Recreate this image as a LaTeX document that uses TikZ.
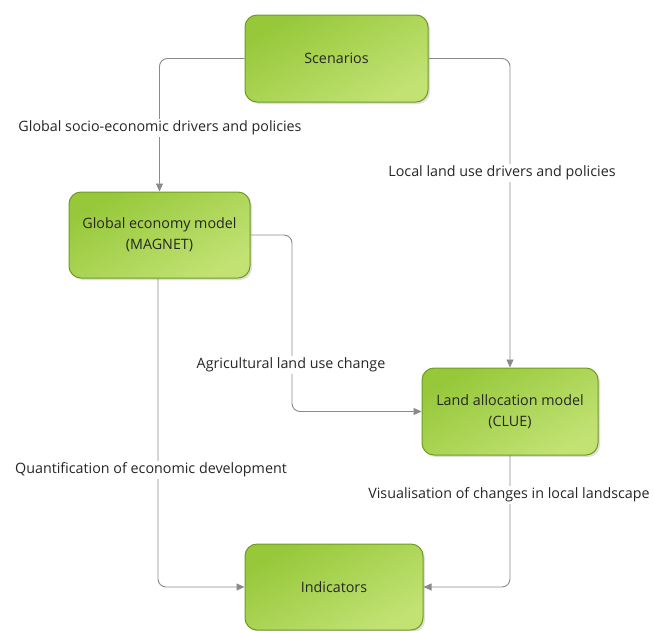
\documentclass[tikz,border=0pt]{standalone}
\usepackage{fontspec}
\setmainfont{Open Sans}
\usetikzlibrary{shadows,arrows.meta}
\definecolor{boxA}{HTML}{96C83A}
\definecolor{boxB}{HTML}{C2E274}
\definecolor{boxLine}{HTML}{6E9C22}
\definecolor{connC}{HTML}{8A8A8A}
\definecolor{txtC}{HTML}{262626}
\tikzset{
  modelbox/.style={draw=boxLine, line width=1pt, rounded corners=12pt,
    top color=boxA, bottom color=boxB, shading angle=30,
    drop shadow={opacity=0.25, shadow xshift=2pt, shadow yshift=-2pt},
    align=center, text=txtC, font=\fontsize{14.3}{21}\selectfont, inner sep=0pt},
  conn/.style={draw=connC, line width=0.9pt, rounded corners=8pt,
    -{Triangle[length=8pt,width=7pt]}},
  lbl/.style={fill=white, text=txtC, font=\fontsize{14.3}{17}\selectfont, inner sep=2pt}
}
\begin{document}
\begin{tikzpicture}[x=1pt,y=-1pt]
\useasboundingbox (0,0) rectangle (654,630);
\node[modelbox, minimum width=183pt, minimum height=87pt] (scen) at (336.5,58.5) {Scenarios};
\node[modelbox, minimum width=181pt, minimum height=86pt] (glob) at (159.5,235) {Global economy model\\(MAGNET)};
\node[modelbox, minimum width=176pt, minimum height=87pt] (land) at (510,411.5) {Land allocation model\\(CLUE)};
\node[modelbox, minimum width=178pt, minimum height=86pt] (ind) at (334,587) {Indicators};
\coordinate (gx) at (292,235);
\coordinate (gb) at (158,278);
\coordinate (lb) at (510,455);
\draw[conn] (scen.west) -| (glob.north);
\draw[conn] (scen.east) -| (land.north);
\draw[conn] (glob.east) -- (gx) |- (land.west);
\draw[conn] (gb) |- (ind.west);
\draw[conn] (lb) |- (ind.east);
\node[lbl] (l1) at (160,128) {Global socio-economic drivers and policies};
\node[lbl] (l2) at (502,173) {Local land use drivers and policies};
\node[lbl] (l3) at (291,365) {Agricultural land use change};
\node[lbl] (l4) at (151,470) {Quantification of economic development};
\node[lbl] (l5) at (509,495) {Visualisation of changes in local landscape};
\end{tikzpicture}
\end{document}
